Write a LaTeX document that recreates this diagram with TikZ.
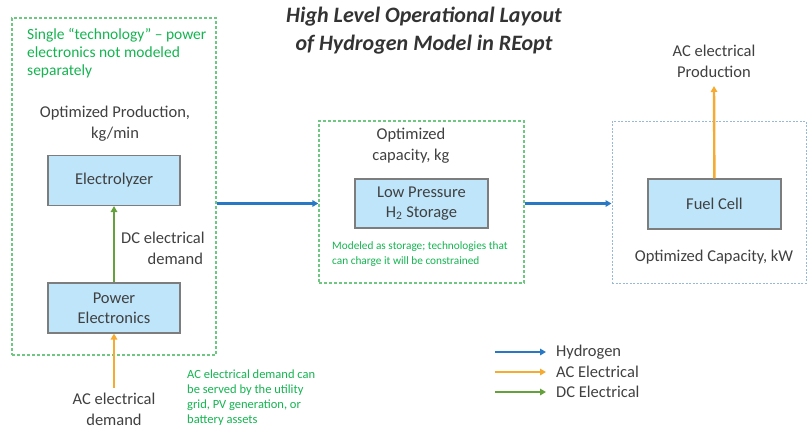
\documentclass[tikz,border=0pt]{standalone}
\usepackage{fontspec}
\setmainfont{Carlito}
\usetikzlibrary{arrows.meta,positioning}
\definecolor{txtgray}{RGB}{64,64,64}
\definecolor{notegreen}{RGB}{20,180,80}
\definecolor{framegreen}{RGB}{110,200,130}
\definecolor{frameblue}{RGB}{150,185,215}
\definecolor{boxfill}{RGB}{190,229,250}
\definecolor{boxline}{RGB}{125,125,125}
\definecolor{hblue}{RGB}{40,120,195}
\definecolor{acorange}{RGB}{245,170,50}
\definecolor{dcgreen}{RGB}{100,160,60}
\tikzset{
	tech/.style={draw=boxline,fill=boxfill,line width=1.1pt,rectangle,align=center,
		minimum width=132pt,minimum height=50pt,text=txtgray,font=\fontsize{16.5}{20}\selectfont},
	grpframe/.style={draw=framegreen,line width=1.4pt,dash pattern=on 3pt off 2pt,rectangle,inner sep=0pt},
	fcframe/.style={draw=frameblue,line width=1pt,dash pattern=on 2pt off 1.5pt,rectangle,inner sep=0pt},
	lbl/.style={align=center,text=txtgray,font=\fontsize{16.5}{21}\selectfont},
	note/.style={align=left,text=notegreen,inner sep=0pt},
	flow/.style={line width=2.4pt,-{Triangle[length=6pt,width=6.5pt]}},
	h2flow/.style={flow,draw=hblue},
	acflow/.style={flow,draw=acorange},
	dcflow/.style={flow,draw=dcgreen}
}
\begin{document}
\begin{tikzpicture}[x=1pt,y=-1pt]
	\useasboundingbox (0,0) rectangle (809,429);
	% title
	\node[align=center,text=txtgray!80!black,font=\fontsize{22}{28}\selectfont\bfseries\itshape] (title) at (424,31) {High Level Operational Layout\\of Hydrogen Model in REopt};
	
	% electrolyzer group
	\node[grpframe,minimum width=204pt,minimum height=337pt] (elgroup) at (114,186.5) {};
	\node[note,anchor=north west,font=\fontsize{15.5}{18}\selectfont] (elnote) at (27,28) {Single “technology” – power\\electronics not modeled\\separately};
	\node[lbl] (elopt) at (115,124) {Optimized Production,\\kg/min};
	\node[tech] (ely) at (114,180.5) {Electrolyzer};
	\node[tech] (pe) at (114,308) {Power\\Electronics};
	\node[lbl,anchor=west,inner sep=0pt] (dclbl) at (121,248) {DC electrical\\\hspace*{1.5em}demand};
	\node[lbl,inner sep=0pt] (aclbl) at (114,409) {AC electrical\\demand};
	\coordinate (acin) at (114,388);
	\node[note,anchor=north west,font=\fontsize{12.5}{15}\selectfont] (acnote) at (187,370) {AC electrical demand can\\be served by the utility\\grid, PV generation, or\\battery assets};
	\draw[dcflow] (pe) -- (ely);
	\draw[acflow] (acin) -- (pe);
	
	% storage group
	\node[grpframe,minimum width=205pt,minimum height=162pt] (stgroup) at (421.5,202) {};
	\node[lbl] (stopt) at (411,146) {Optimized\\capacity, kg};
	\node[tech,minimum width=133pt,minimum height=49pt] (stbox) at (421.5,203.5) {Low Pressure\\H\textsubscript{2} Storage};
	\node[note,anchor=north west,font=\fontsize{11.3}{15}\selectfont] (stnote) at (332,241) {Modeled as storage; technologies that\\can charge it will be constrained};
	
	% fuel cell group
	\node[fcframe,minimum width=194pt,minimum height=162pt] (fcgroup) at (709,202) {};
	\node[tech,minimum width=133pt] (fc) at (714.5,204) {Fuel Cell};
	\node[lbl] (fcopt) at (714,257) {Optimized Capacity, kW};
	\node[lbl] (acoutlbl) at (714,61) {AC electrical\\Production};
	\coordinate (acout) at (714,86);
	\draw[acflow] (fc) -- (acout);
	
	\draw[h2flow] (elgroup.east |- stbox) -- (stgroup.west |- stbox);
	\draw[h2flow] (stgroup.east |- stbox) -- (fcgroup.west |- stbox);
	
	% legend
	\coordinate (lgh) at (495,352);
	\coordinate (lgac) at (495,372);
	\coordinate (lgdc) at (495,392);
	\node[lbl,anchor=west,inner sep=0pt] (lghtxt) at (556,352) {Hydrogen};
	\node[lbl,anchor=west,inner sep=0pt] (lgactxt) at (556,372) {AC Electrical};
	\node[lbl,anchor=west,inner sep=0pt] (lgdctxt) at (556,392) {DC Electrical};
	\draw[h2flow] (lgh) -- ([xshift=-10pt]lghtxt.west);
	\draw[acflow] (lgac) -- ([xshift=-10pt]lgactxt.west);
	\draw[dcflow] (lgdc) -- ([xshift=-10pt]lgdctxt.west);
\end{tikzpicture}
\end{document}
